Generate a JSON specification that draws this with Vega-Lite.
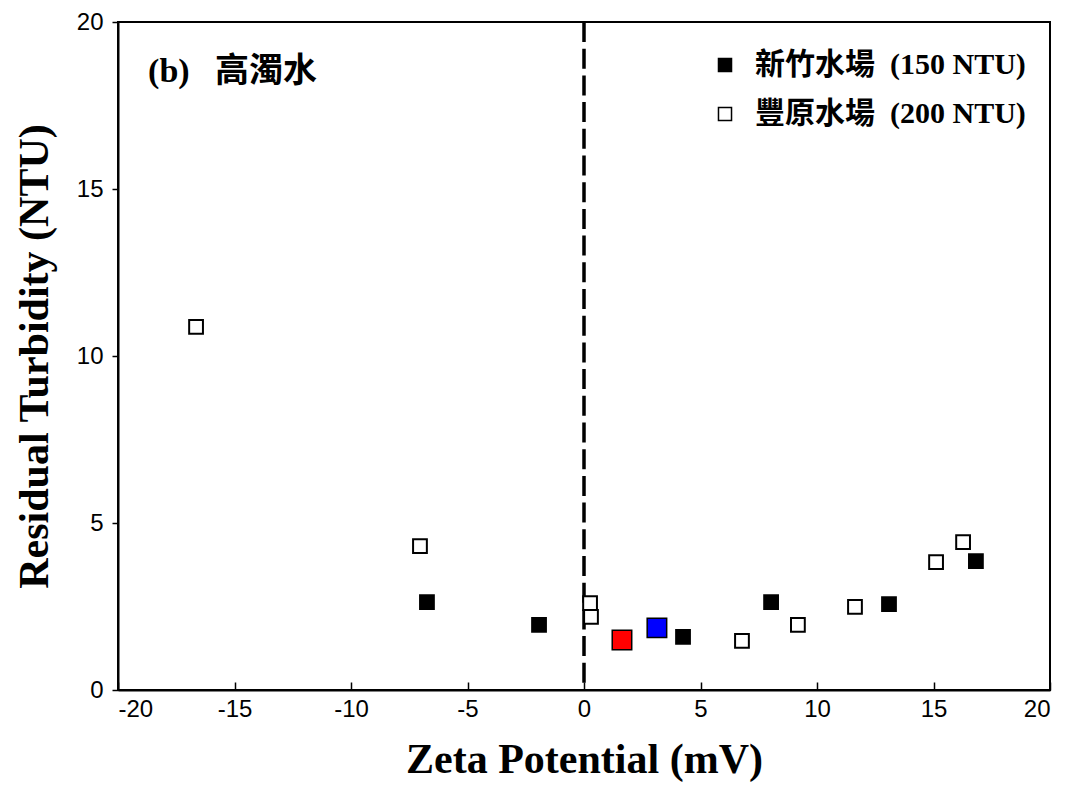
{
  "$schema": "https://vega.github.io/schema/vega-lite/v6.json",
  "width": 932,
  "height": 668,
  "autosize": "none",
  "padding": {"left": 118, "top": 22, "right": 20, "bottom": 113},
  "background": "white",
  "config": {
    "view": {"stroke": "black", "strokeWidth": 2},
    "axis": {"grid": false, "domainColor": "black", "domainWidth": 2, "tickColor": "black", "tickWidth": 1.5, "labelColor": "black", "labelFont": "Liberation Sans", "labelFontSize": 24, "titleFont": "Liberation Serif", "titleFontWeight": "bold", "titleColor": "black"}
  },
  "datasets": {
    "pts": [
      {"zeta": -6.74, "turb": 2.63, "plant": "新竹水場\u00a0\u00a0(150 NTU)"},
      {"zeta": -1.93, "turb": 1.95, "plant": "新竹水場\u00a0\u00a0(150 NTU)"},
      {"zeta": 4.25, "turb": 1.59, "plant": "新竹水場\u00a0\u00a0(150 NTU)"},
      {"zeta": 8.03, "turb": 2.63, "plant": "新竹水場\u00a0\u00a0(150 NTU)"},
      {"zeta": 13.09, "turb": 2.57, "plant": "新竹水場\u00a0\u00a0(150 NTU)"},
      {"zeta": 16.82, "turb": 3.86, "plant": "新竹水場\u00a0\u00a0(150 NTU)"},
      {"zeta": -16.65, "turb": 10.87, "plant": "豐原水場\u00a0\u00a0(200 NTU)"},
      {"zeta": -7.04, "turb": 4.31, "plant": "豐原水場\u00a0\u00a0(200 NTU)"},
      {"zeta": 0.26, "turb": 2.6, "plant": "豐原水場\u00a0\u00a0(200 NTU)"},
      {"zeta": 0.3, "turb": 2.19, "plant": "豐原水場\u00a0\u00a0(200 NTU)"},
      {"zeta": 6.78, "turb": 1.47, "plant": "豐原水場\u00a0\u00a0(200 NTU)"},
      {"zeta": 9.18, "turb": 1.95, "plant": "豐原水場\u00a0\u00a0(200 NTU)"},
      {"zeta": 11.63, "turb": 2.49, "plant": "豐原水場\u00a0\u00a0(200 NTU)"},
      {"zeta": 15.11, "turb": 3.83, "plant": "豐原水場\u00a0\u00a0(200 NTU)"},
      {"zeta": 16.27, "turb": 4.43, "plant": "豐原水場\u00a0\u00a0(200 NTU)"}
    ],
    "hl": [
      {"zeta": 1.63, "turb": 1.5, "c": "red"},
      {"zeta": 3.13, "turb": 1.86, "c": "blue"}
    ],
    "zero": [{"zeta": 0}],
    "label": [{"zeta": -18.71, "turb": 18.2, "txt": "(b)\u00a0\u00a0\u00a0高濁水"}]
  },
  "layer": [
    {
      "data": {"name": "zero"},
      "mark": {"type": "rule", "stroke": "black", "strokeWidth": 3.5, "strokeDash": [20, 6.7]},
      "encoding": {"x": {"field": "zeta", "type": "quantitative"}}
    },
    {
      "data": {"name": "pts"},
      "mark": {"type": "point", "shape": "square", "filled": true, "stroke": "black", "strokeWidth": 2, "size": 190, "opacity": 1},
      "encoding": {
        "x": {
          "field": "zeta", "type": "quantitative",
          "scale": {"domain": [-20, 20], "nice": false, "zero": false},
          "axis": {"values": [-20, -15, -10, -5, 0, 5, 10, 15, 20], "labelExpr": "replace(datum.label, '−', '-')", "tickSize": -8, "labelPadding": 15, "title": "Zeta Potential (mV)", "titleFontSize": 42, "titleX": 466, "titleY": 82, "titleBaseline": "alphabetic", "titleAlign": "center"}
        },
        "y": {
          "field": "turb", "type": "quantitative",
          "scale": {"domain": [0, 20], "nice": false},
          "axis": {"values": [0, 5, 10, 15, 20], "tickSize": 6, "labelPadding": 9, "title": "Residual Turbidity (NTU)", "titleFontSize": 42, "titleX": -84, "titleY": 334, "titleAngle": -90, "titleAlign": "center", "titleBaseline": "middle"}
        },
        "fill": {
          "field": "plant", "type": "nominal",
          "scale": {"domain": ["新竹水場\u00a0\u00a0(150 NTU)", "豐原水場\u00a0\u00a0(200 NTU)"], "range": ["black", "white"]},
          "legend": {"title": null, "orient": "none", "legendX": 592, "legendY": 28, "padding": 0, "symbolType": "square", "symbolSize": 170, "symbolStrokeColor": "black", "symbolStrokeWidth": 1.5, "symbolOpacity": 1, "labelFont": "Liberation Serif, Noto Sans CJK TC", "labelFontWeight": "bold", "labelFontSize": 30, "labelColor": "black", "labelOffset": 15, "labelLimit": 0, "rowPadding": 19}
        }
      }
    },
    {
      "data": {"name": "hl"},
      "mark": {"type": "point", "shape": "square", "filled": true, "stroke": "black", "strokeWidth": 1.5, "size": 380, "opacity": 1},
      "encoding": {
        "x": {"field": "zeta", "type": "quantitative"},
        "y": {"field": "turb", "type": "quantitative"},
        "fill": {"field": "c", "type": "nominal", "scale": null, "legend": null}
      }
    },
    {
      "data": {"name": "label"},
      "mark": {"type": "text", "align": "left", "baseline": "alphabetic", "font": "Liberation Serif, Noto Sans CJK TC", "fontWeight": "bold", "fontSize": 34, "color": "black"},
      "encoding": {
        "x": {"field": "zeta", "type": "quantitative"},
        "y": {"field": "turb", "type": "quantitative"},
        "text": {"field": "txt"}
      }
    }
  ],
  "resolve": {"scale": {"fill": "independent"}}
}
